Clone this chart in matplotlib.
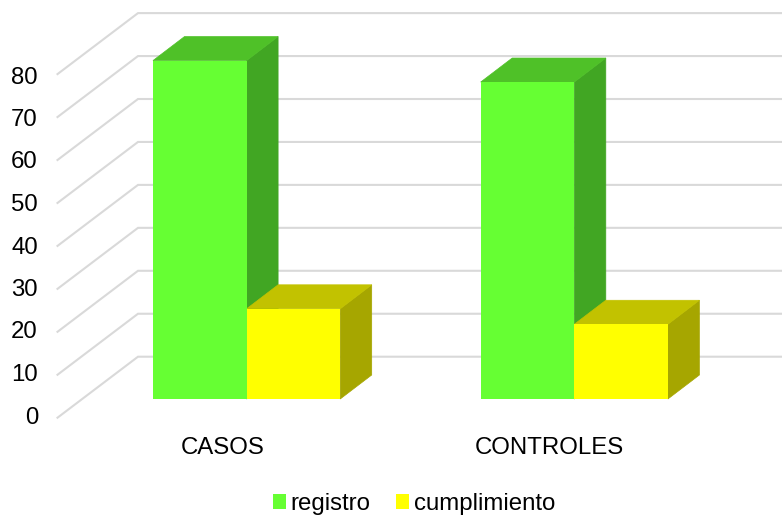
import matplotlib
matplotlib.use('Agg')
import matplotlib.pyplot as plt
from matplotlib.patches import Polygon

plt.rcParams['font.family'] = ['Liberation Sans', 'DejaVu Sans']

categorias = ['CASOS', 'CONTROLES']
registro = [78.8, 73.8]
cumplimiento = [21.0, 17.4]
ticks = [0, 10, 20, 30, 40, 50, 60, 70, 80]

PX = 4.295  # pixeles por unidad
W, H = 782, 516
BASE = 399  # pixel y del cero de las barras
izq = [153, 480.7]
ancho = 93.6
dx, dy = 31.5, 24 / PX
FS = 17.25


def sombra(ax, x, v, color_lado, color_tope):
    ax.add_patch(Polygon([(x + ancho, 0), (x + ancho + dx, dy), (x + ancho + dx, v + dy), (x + ancho, v)],
                         fc=color_lado, ec=color_lado, lw=0.5, zorder=3))
    ax.add_patch(Polygon([(x, v), (x + dx, v + dy), (x + ancho + dx, v + dy), (x + ancho, v)],
                         fc=color_tope, ec=color_tope, lw=0.5, zorder=3))


fig = plt.figure(figsize=(W / 100, H / 100), dpi=100)
ax = fig.add_axes([0, 0, 1, 1])
ax.set_xlim(0, W)
ax.set_ylim((BASE - H) / PX, BASE / PX)
ax.axis('off')

# rejilla: pared del fondo y piso
atras = (BASE - 356.7) / PX
frente = (BASE - 417.7) / PX
for t in ticks:
    ax.plot([57.5, 138, W], [t + frente, t + atras, t + atras], color='#d9d9d9', lw=1.5, zorder=1,
            solid_joinstyle='miter')
    # las etiquetas van un poco mas juntas que la rejilla
    ax.text(38, (BASE - 417.5 + 4.25 * t) / PX, str(t), ha='right', va='center', fontsize=FS, color='black')

for x, v in zip(izq, registro):
    sombra(ax, x, v, '#41a623', '#4fc128')
for x, v in zip(izq, cumplimiento):
    sombra(ax, x + ancho, v, '#a6a600', '#c2c200')

b1 = ax.bar(izq, registro, width=ancho, align='edge', color='#66ff33', zorder=4, label='registro')
b2 = ax.bar([x + ancho for x in izq], cumplimiento, width=ancho, align='edge', color='#ffff00', zorder=5,
            label='cumplimiento')

for x, c in zip(izq, categorias):
    ax.text(x + ancho - 24 if c == 'CASOS' else x + ancho - 25, (BASE - 448) / PX, c, ha='center', va='center',
            fontsize=FS, color='black')

ax.legend(handles=[b1, b2], loc='center', bbox_to_anchor=(414 / W, 1 - 504 / H), ncol=2, frameon=False,
          fontsize=FS, handlelength=0.55, handleheight=0.55, handletextpad=0.2, columnspacing=1.05,
          borderpad=0, labelcolor='black')

fig.savefig('out.png', dpi=100)
